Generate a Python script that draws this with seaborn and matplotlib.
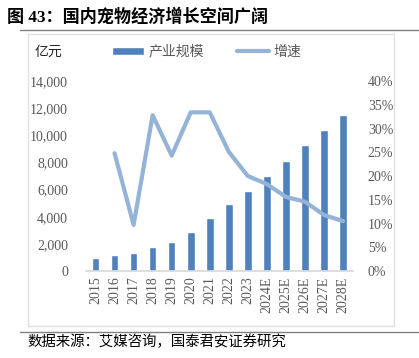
import numpy as np
import pandas as pd
import matplotlib
matplotlib.use('Agg')
import matplotlib.pyplot as plt
import seaborn as sns
from matplotlib.patches import Rectangle
from matplotlib.lines import Line2D
from matplotlib.ticker import FuncFormatter, MultipleLocator

# data
years = ['2015', '2016', '2017', '2018', '2019', '2020', '2021', '2022', '2023',
         '2024E', '2025E', '2026E', '2027E', '2028E']
scale = [940, 1180, 1300, 1750, 2160, 2900, 3910, 4920, 5900, 6990, 8100, 9280, 10380, 11490]
growth = [np.nan, 24.8, 9.7, 32.8, 24.3, 33.4, 33.4, 25.1, 20.0, 18.3, 15.6, 14.6, 11.8, 10.5]

df = pd.DataFrame({'year': years, 'scale': scale, 'growth': np.array(growth) / 100})

sns.set_theme(style='white')
plt.rcParams['font.family'] = ['Liberation Serif', 'Noto Sans CJK SC', 'DejaVu Sans']

bar_color = '#4F81BD'
line_color = '#95B3D7'
text_gray = '#595959'

fig = plt.figure(figsize=(4.19, 3.58), dpi=100)
ax = fig.add_axes([0.2053, 0.2430, 0.636, 0.5307])

sns.barplot(data=df, x='year', y='scale', color=bar_color, width=0.4,
            saturation=1, ax=ax, label='产业规模')
ax2 = ax.twinx()
sns.lineplot(data=df, x='year', y='growth', color=line_color, linewidth=3,
             ax=ax2, label='增速', legend=False)

ax.set_ylim(0, 14000)
ax2.set_ylim(0, 0.4)
ax.set_xlim(-0.5, len(years) - 0.5)
ax.yaxis.set_major_locator(MultipleLocator(2000))
ax2.yaxis.set_major_locator(MultipleLocator(0.05))
ax.yaxis.set_major_formatter(FuncFormatter(lambda v, p: f'{v:,.0f}'))
ax2.yaxis.set_major_formatter(FuncFormatter(lambda v, p: f'{v * 100:.0f}%'))

for a in (ax, ax2):
    a.set_xlabel('')
    a.set_ylabel('')
    for s in a.spines.values():
        s.set_visible(False)
    a.tick_params(axis='both', length=0, labelsize=10, labelcolor=text_gray)
ax.spines['bottom'].set_visible(True)
ax.spines['bottom'].set_color('#D9D9D9')
ax.tick_params(axis='y', pad=13)
ax2.tick_params(axis='y', pad=11)
ax.tick_params(axis='x', pad=4)
for lab in ax.get_xticklabels():
    lab.set_rotation(90)

# legend
h1, l1 = ax.get_legend_handles_labels()
h2, l2 = ax2.get_legend_handles_labels()
if ax.get_legend():
    ax.get_legend().remove()
fig.legend(h1 + h2, l1 + l2, loc='center left', bbox_to_anchor=(0.238, 1 - 52 / 358),
           ncol=2, frameon=False, fontsize=10, handlelength=2.3, handleheight=0.45,
           handletextpad=0.3, columnspacing=2.4, labelcolor=text_gray)
fig.text(35 / 419, 1 - 52 / 358, '亿元', fontsize=10, color='#262626', va='center')

# frame and title decorations
fig.patches.append(Rectangle((28 / 419, 1 - 326 / 358), 366 / 419, 292 / 358,
                             transform=fig.transFigure, fill=False,
                             edgecolor='#E0E0E0', linewidth=1))
fig.lines.append(Line2D([20 / 419, 1], [1 - 29.5 / 358] * 2, transform=fig.transFigure,
                        color='#808080', linewidth=1))
fig.lines.append(Line2D([20 / 419, 1], [1 - 332 / 358] * 2, transform=fig.transFigure,
                        color='#808080', linewidth=1))
fig.text(7 / 419, 1 - 17 / 358, '图 43：国内宠物经济增长空间广阔', fontsize=12.3,
         fontweight='bold', color='black', va='center')
fig.text(27 / 419, 1 - 342 / 358, '数据来源：艾媒咨询，国泰君安证券研究', fontsize=10.4,
         color='black', va='center')

fig.savefig('out.png', dpi=100)
